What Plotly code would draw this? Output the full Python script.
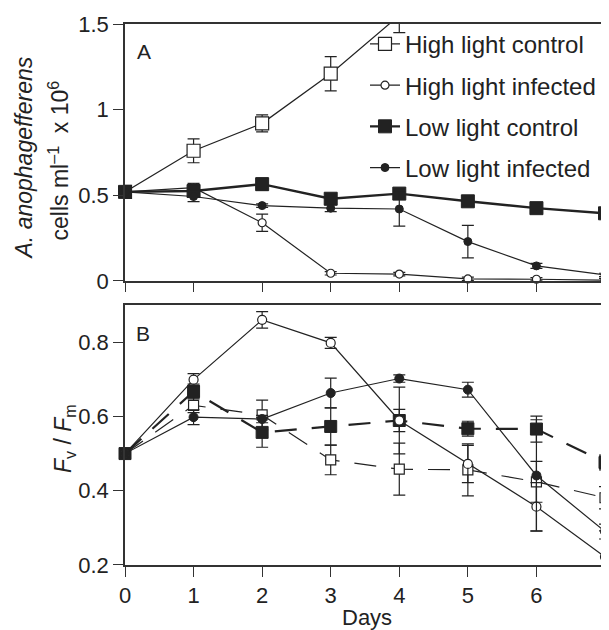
import plotly.graph_objects as go

days = [0, 1, 2, 3, 4, 5, 6, 7]

# Panel A: cell abundance (cells ml-1 x 10^6)
hlc_a_days = [0, 1, 2, 3, 4]
hlc_a = [0.52, 0.76, 0.92, 1.21, 1.55]
hlc_a_err = [0, 0.07, 0.05, 0.10, 0.10]
hli_a = [0.52, 0.545, 0.34, 0.045, 0.04, 0.012, 0.01, 0.005]
hli_a_err = [0, 0.025, 0.05, 0.01, 0.01, 0.01, 0.01, 0.01]
llc_a = [0.52, 0.525, 0.565, 0.48, 0.51, 0.465, 0.425, 0.395]
llc_a_err = [0, 0.03, 0.035, 0.03, 0.025, 0.02, 0.025, 0.02]
lli_a = [0.52, 0.493, 0.44, 0.425, 0.42, 0.23, 0.088, 0.035]
lli_a_err = [0, 0.03, 0.01, 0.02, 0.10, 0.095, 0.015, 0.01]

# Panel B: Fv/Fm
hlc_b = [0.5, 0.63, 0.604, 0.483, 0.458, 0.456, 0.424, 0.381]
hlc_b_err = [0, 0.02, 0.04, 0.04, 0.07, 0.07, 0.055, 0.03]
hli_b = [0.5, 0.699, 0.86, 0.798, 0.589, 0.472, 0.357, 0.222]
hli_b_err = [0, 0.016, 0.022, 0.015, 0.03, 0.05, 0.065, 0.07]
llc_b = [0.5, 0.667, 0.557, 0.573, 0.589, 0.567, 0.566, 0.476]
llc_b_err = [0, 0.02, 0.04, 0.05, 0.09, 0.02, 0.035, 0.02]
lli_b = [0.5, 0.598, 0.593, 0.663, 0.702, 0.672, 0.441, 0.29]
lli_b_err = [0, 0.02, 0.01, 0.04, 0.01, 0.02, 0.15, 0.02]

names = ["High light control", "High light infected", "Low light control", "Low light infected"]
INK = "#222222"
FONT = "Liberation Sans, Arial, Helvetica, sans-serif"

def err(vals):
    return dict(type="data", array=vals, visible=True, color=INK, thickness=1.2, width=6)

fig = go.Figure()

# ---- Panel A ----
fig.add_trace(go.Scatter(x=hlc_a_days, y=hlc_a, error_y=err(hlc_a_err), name=names[0],
    mode="lines+markers", line=dict(color=INK, width=1.2),
    marker=dict(symbol="square", size=13, color="white", line=dict(color=INK, width=1.2)),
    cliponaxis=True, legendgroup="g1", xaxis="x", yaxis="y"))
fig.add_trace(go.Scatter(x=days, y=hli_a, error_y=err(hli_a_err), name=names[1],
    mode="lines+markers", line=dict(color=INK, width=1.2),
    marker=dict(symbol="circle", size=8, color="white", line=dict(color=INK, width=1.2)),
    cliponaxis=False, legendgroup="g2", xaxis="x", yaxis="y"))
fig.add_trace(go.Scatter(x=days, y=llc_a, error_y=err(llc_a_err), name=names[2],
    mode="lines+markers", line=dict(color=INK, width=2.4),
    marker=dict(symbol="square", size=13, color=INK, line=dict(color=INK, width=1)),
    cliponaxis=False, legendgroup="g3", xaxis="x", yaxis="y"))
fig.add_trace(go.Scatter(x=days, y=lli_a, error_y=err(lli_a_err), name=names[3],
    mode="lines+markers", line=dict(color=INK, width=1.2),
    marker=dict(symbol="circle", size=8, color=INK, line=dict(color=INK, width=1)),
    cliponaxis=False, legendgroup="g4", xaxis="x", yaxis="y"))

# ---- Panel B ----
fig.add_trace(go.Scatter(x=days, y=hlc_b, error_y=err(hlc_b_err), showlegend=False,
    mode="lines+markers", line=dict(color=INK, width=1.2, dash="22px,15px"),
    marker=dict(symbol="square", size=10, color="white", line=dict(color=INK, width=1.2)),
    cliponaxis=False, xaxis="x2", yaxis="y2"))
fig.add_trace(go.Scatter(x=days, y=llc_b, error_y=err(llc_b_err), showlegend=False,
    mode="lines+markers", line=dict(color=INK, width=2.2, dash="22px,15px"),
    marker=dict(symbol="square", size=12, color=INK, line=dict(color=INK, width=1)),
    cliponaxis=False, xaxis="x2", yaxis="y2"))
fig.add_trace(go.Scatter(x=days, y=hli_b, error_y=err(hli_b_err), showlegend=False,
    mode="lines+markers", line=dict(color=INK, width=1.2),
    marker=dict(symbol="circle", size=9, color="white", line=dict(color=INK, width=1.2)),
    cliponaxis=False, xaxis="x2", yaxis="y2"))
fig.add_trace(go.Scatter(x=days, y=lli_b, error_y=err(lli_b_err), showlegend=False,
    mode="lines+markers", line=dict(color=INK, width=1.2),
    marker=dict(symbol="circle", size=9, color=INK, line=dict(color=INK, width=1)),
    cliponaxis=False, xaxis="x2", yaxis="y2"))

axis_common = dict(showline=True, linecolor="#333333", linewidth=1.5, mirror=True,
                   showgrid=False, zeroline=False, ticks="outside", tickcolor="#333333",
                   tickwidth=1.2, tickfont=dict(family=FONT, size=22, color=INK))

fig.update_layout(
    width=601, height=622,
    margin=dict(l=117, r=2, t=16, b=65),
    paper_bgcolor="white", plot_bgcolor="white",
    font=dict(family=FONT, color=INK),
    xaxis=dict(axis_common, range=[0, 7], tickvals=days, showticklabels=False,
               ticklen=9, anchor="y", domain=[0, 1]),
    yaxis=dict(axis_common, range=[0, 1.5], tickvals=[0, 0.5, 1, 1.5],
               ticktext=["0", "0.5", "1", "1.5"], ticklen=10, anchor="x",
               domain=[0.525, 1]),
    xaxis2=dict(axis_common, range=[0, 7], tickvals=days, ticklen=10,
                anchor="y2", domain=[0, 1]),
    yaxis2=dict(axis_common, range=[0.2, 0.9], tickvals=[0.2, 0.4, 0.6, 0.8],
                ticktext=["0.2", "0.4", "0.6", "0.8"], ticklen=10, anchor="x2",
                domain=[0, 0.4806]),
    legend=dict(x=0.5, y=1.004, xanchor="left", yanchor="top",
                font=dict(family=FONT, size=24, color=INK),
                bgcolor="rgba(0,0,0,0)", traceorder="grouped", tracegroupgap=7,
                itemwidth=30),
    annotations=[
        dict(text="A", xref="paper", yref="paper", x=0, y=1, xshift=10, yshift=-14,
             xanchor="left", yanchor="top", showarrow=False,
             font=dict(family=FONT, size=21, color=INK)),
        dict(text="B", xref="paper", yref="paper", x=0, y=0.4806, xshift=9, yshift=-15,
             xanchor="left", yanchor="top", showarrow=False,
             font=dict(family=FONT, size=21, color=INK)),
        dict(text="<i>A. anophagefferens</i>", xref="paper", yref="paper",
             x=0, y=0.7625, xshift=-101, yshift=-6, textangle=-90, showarrow=False,
             xanchor="center", yanchor="middle", font=dict(family=FONT, size=23, color=INK)),
        dict(text="cells ml<sup>–1</sup>  x 10<sup>6</sup>", xref="paper", yref="paper",
             x=0, y=0.7625, xshift=-66, yshift=-8, textangle=-90, showarrow=False,
             xanchor="center", yanchor="middle", font=dict(family=FONT, size=23, color=INK)),
        dict(text="<i>F</i><sub>v</sub> / <i>F</i><sub>m</sub>", xref="paper", yref="paper",
             x=0, y=0.2403, xshift=-60, yshift=-4, textangle=-90, showarrow=False,
             xanchor="center", yanchor="middle", font=dict(family=FONT, size=23, color=INK)),
        dict(text="Days", xref="x2", yref="paper", x=3.53, y=0, yshift=-52,
             xanchor="center", yanchor="middle", showarrow=False,
             font=dict(family=FONT, size=22, color=INK)),
    ],
)

fig.write_html("out.html")
